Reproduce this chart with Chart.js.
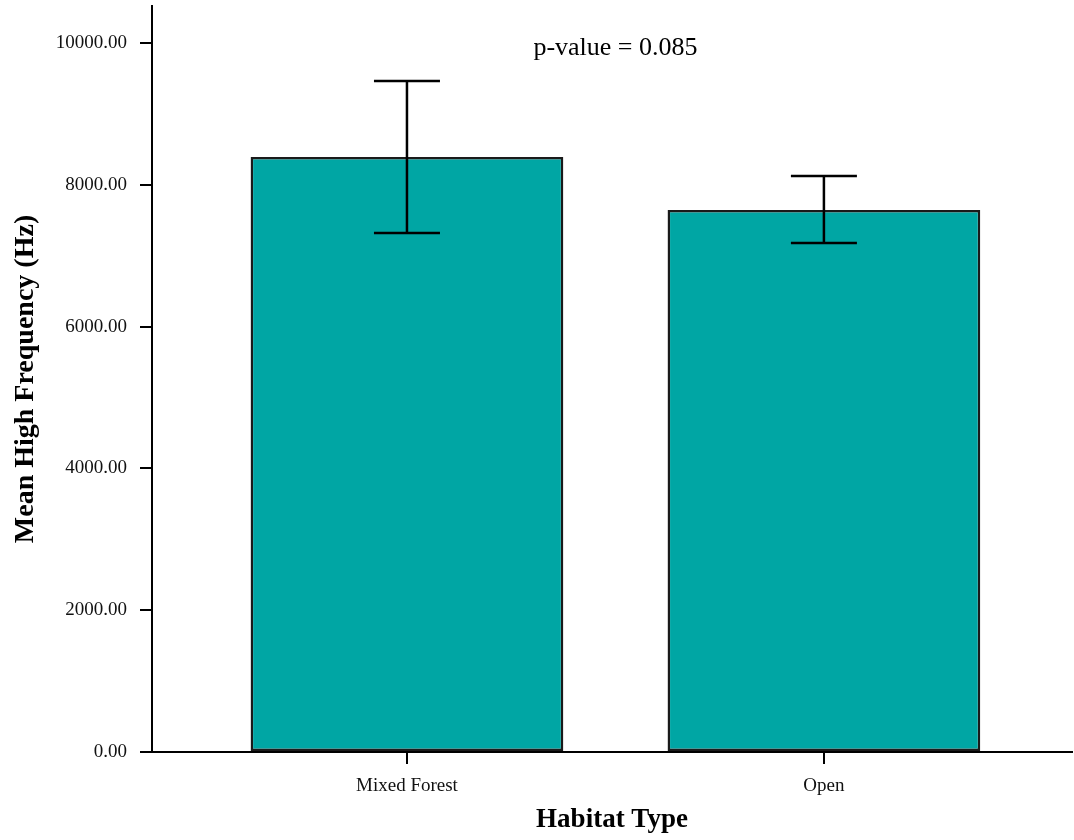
<!DOCTYPE html>
<html>
<head>
<meta charset="utf-8">
<script src="https://cdn.jsdelivr.net/npm/chart.js@4"></script>
<style>
  html, body { margin: 0; padding: 0; background: #fff; }
  #wrap { width: 1074px; height: 840px; }
</style>
</head>
<body>
<div id="wrap"><canvas id="habitatChart"></canvas></div>
<script>
// data
var habitats = ["Mixed Forest", "Open"];
var meanFreq = [8390, 7643];
var errLow = [7318, 7177];
var errHigh = [9461, 8123];
var yTicks = [0, 2000, 4000, 6000, 8000, 10000];
var pValueText = "p-value = 0.085";

var serif = "'Liberation Serif', 'DejaVu Serif', serif";

// error bars + p-value label
var errorBarPlugin = {
    id: 'errorBars',
    afterDatasetsDraw: function(chart) {
        var ctx = chart.ctx;
        var xs = chart.scales.x, ys = chart.scales.y;
        ctx.save();
        ctx.strokeStyle = '#000';
        ctx.lineWidth = 2.5;
        for (var i = 0; i < habitats.length; i++) {
            var x = xs.getPixelForValue(i);
            var top = ys.getPixelForValue(errHigh[i]);
            var bot = ys.getPixelForValue(errLow[i]);
            ctx.beginPath();
            ctx.moveTo(x, top); ctx.lineTo(x, bot);
            ctx.moveTo(x - 33, top); ctx.lineTo(x + 33, top);
            ctx.moveTo(x - 33, bot); ctx.lineTo(x + 33, bot);
            ctx.stroke();
        }
        ctx.fillStyle = '#000';
        ctx.font = "26px " + serif;
        ctx.textAlign = 'center';
        ctx.textBaseline = 'alphabetic';
        ctx.fillText(pValueText, xs.getPixelForValue(0.5), ys.getPixelForValue(10000) + 12);
        ctx.restore();
    }
};

var ctx = document.getElementById('habitatChart');
var myChart = new Chart(ctx, {
    type: 'bar',
    data: {
        datasets: [{
            data: habitats.map(function(h, i) { return { x: i, y: meanFreq[i] }; }),
            backgroundColor: 'rgb(0, 166, 164)',
            borderColor: '#1a1a1a',
            borderWidth: 2.5,
            borderSkipped: false,
            barPercentage: 0.75,
            categoryPercentage: 1
        }]
    },
    options: {
        responsive: true,
        maintainAspectRatio: false,
        animation: false,
        layout: { padding: { left: 5, right: 2, top: 6, bottom: 0 } },
        plugins: { legend: { display: false }, tooltip: { enabled: false } },
        scales: {
            x: {
                type: 'linear',
                offset: false,
                min: -0.6115,
                max: 1.595,
                afterBuildTicks: function(scale) {
                    scale.ticks = habitats.map(function(h, i) { return { value: i }; });
                },
                afterFit: function(scale) { scale.height = 88; },
                ticks: {
                    callback: function(v) { return habitats[v]; },
                    color: '#111',
                    font: { family: serif, size: 19 },
                    padding: 11,
                    maxRotation: 0
                },
                grid: { display: true, offset: false, drawOnChartArea: false, tickLength: 12, color: '#000', lineWidth: 2 },
                border: { display: true, color: '#000', width: 2 },
                title: {
                    display: true,
                    text: 'Habitat Type',
                    color: '#000',
                    font: { family: serif, size: 27, weight: 'bold' },
                    padding: { top: 4, bottom: 4 }
                }
            },
            y: {
                min: 0,
                max: 10520,
                afterBuildTicks: function(scale) {
                    scale.ticks = yTicks.map(function(v) { return { value: v }; });
                },
                afterFit: function(scale) {
                    scale.width = 147;
                    scale.paddingTop = 0;
                    scale.paddingBottom = 0;
                },
                ticks: {
                    callback: function(v) { return v.toFixed(2); },
                    color: '#111',
                    font: { family: serif, size: 19 },
                    padding: 13
                },
                grid: { display: true, drawOnChartArea: false, tickLength: 12, color: '#000', lineWidth: 2 },
                border: { display: true, color: '#000', width: 2 },
                title: {
                    display: true,
                    text: 'Mean High Frequency (Hz)',
                    color: '#000',
                    font: { family: serif, size: 28, weight: 'bold' },
                    padding: { top: 4, bottom: 4 }
                }
            }
        }
    },
    plugins: [errorBarPlugin]
});
</script>
</body>
</html>
